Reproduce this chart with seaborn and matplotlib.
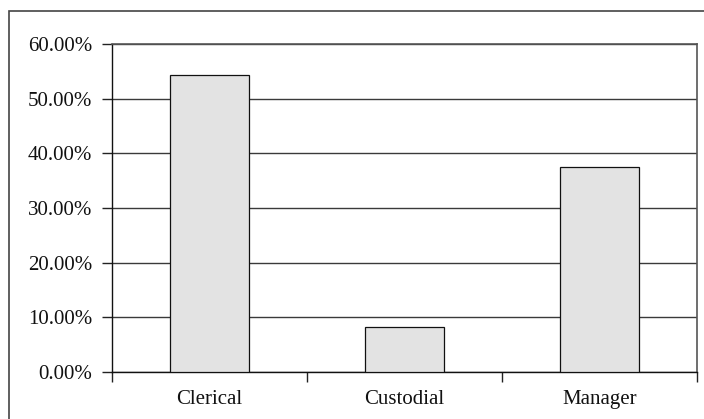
import matplotlib
matplotlib.use("Agg")
import matplotlib.pyplot as plt
import matplotlib.ticker as mticker
from matplotlib.patches import Rectangle
import seaborn as sns
import pandas as pd

categories = ["Clerical", "Custodial", "Manager"]
shares = [54.4, 8.2, 37.6]          # percent of employees per job category
y_ticks = [0, 10, 20, 30, 40, 50, 60]

sns.set_theme(style="white")
plt.rcParams["font.family"] = ["Liberation Serif", "DejaVu Serif"]

df = pd.DataFrame({"category": categories, "share": shares})

fig = plt.figure(figsize=(7.04, 4.19), dpi=100)
ax = fig.add_axes([0.1584, 0.1129, 0.8321, 0.7814])

sns.barplot(data=df, x="category", y="share", ax=ax, color="#e3e3e3",
            saturation=1, width=0.405, edgecolor="#111111", linewidth=0.9,
            zorder=3)

ax.set_ylim(0, 60)
ax.set_xlim(-0.5, len(categories) - 0.5)
ax.set_yticks(y_ticks)
ax.yaxis.set_major_formatter(mticker.FuncFormatter(lambda v, p: f"{v:.2f}%"))
ax.set_xlabel("")
ax.set_ylabel("")

# horizontal gridlines
ax.yaxis.grid(True, color="#3a3a3a", linewidth=1.0, zorder=1)
ax.xaxis.grid(False)
ax.set_axisbelow(True)

# category boundaries carry the tick marks, labels sit at the centres
ax.set_xticks([i - 0.5 for i in range(len(categories) + 1)], minor=True)
ax.tick_params(axis="x", which="minor", length=7, width=1, color="#222222",
               direction="out", bottom=True)
ax.tick_params(axis="x", which="major", length=0, pad=13, labelsize=15,
               labelcolor="#111111")
ax.tick_params(axis="y", which="major", length=7, width=1, color="#222222",
               direction="out", left=True, pad=7, labelsize=15,
               labelcolor="#111111")

for side in ["left", "bottom"]:
    ax.spines[side].set_color("#111111")
    ax.spines[side].set_linewidth(1.0)
for side in ["top", "right"]:
    ax.spines[side].set_color("#555555")
    ax.spines[side].set_linewidth(1.2)
    ax.spines[side].set_visible(True)

# outer chart border
fig.patches.append(Rectangle((9 / 704, -0.05), 1.2, 1.05 - 11 / 419,
                             transform=fig.transFigure, fill=False,
                             edgecolor="#444444", linewidth=1.2))

fig.savefig("out.png", dpi=100)
